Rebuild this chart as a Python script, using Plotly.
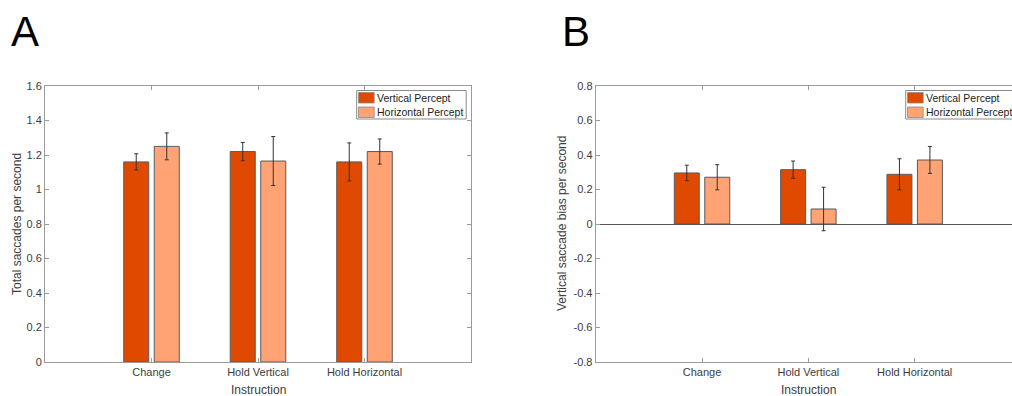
import plotly.graph_objects as go

# ---------------- data ----------------
categories = ["Change", "Hold Vertical", "Hold Horizontal"]
series_names = ["Vertical Percept", "Horizontal Percept"]

# Panel A: Total saccades per second
a_vertical = [1.16, 1.22, 1.16]
a_vertical_err = [0.047, 0.053, 0.110]
a_horizontal = [1.25, 1.165, 1.22]
a_horizontal_err = [0.078, 0.142, 0.073]

# Panel B: Vertical saccade bias per second
b_vertical = [0.296, 0.315, 0.288]
b_vertical_err = [0.045, 0.050, 0.090]
b_horizontal = [0.271, 0.087, 0.371]
b_horizontal_err = [0.073, 0.126, 0.078]

a_ticks = [0, 0.2, 0.4, 0.6, 0.8, 1, 1.2, 1.4, 1.6]
b_ticks = [-0.8, -0.6, -0.4, -0.2, 0, 0.2, 0.4, 0.6, 0.8]

# ---------------- styling ----------------
W, H = 1022, 396
FONT = "Liberation Sans"
TXT = "#3c3c3c"
AX = "#9a9a9a"
C_V = "#E04A00"
C_H = "#FFA374"
colors = [C_V, C_H]


def px(x):
    return x / W


def py(y):
    return 1 - y / H


xpos = [i + 1 for i in range(len(categories))]

fig = go.Figure()
panels = [
    ("x", "y", [a_vertical, a_horizontal], [a_vertical_err, a_horizontal_err]),
    ("x2", "y2", [b_vertical, b_horizontal], [b_vertical_err, b_horizontal_err]),
]
for xa, ya, vals, errs in panels:
    for k in range(2):
        fig.add_trace(go.Bar(
            x=xpos, y=vals[k], name=series_names[k], xaxis=xa, yaxis=ya,
            offsetgroup=str(k), showlegend=False,
            marker=dict(color=colors[k], line=dict(color="#5a5a5a", width=1)),
            error_y=dict(type="data", array=errs[k], color="#333333",
                         thickness=1, width=2),
        ))

ydom = [py(362), py(86)]
common_x = dict(range=[0, 4], tickvals=xpos, ticktext=categories,
                ticks="inside", ticklen=4, tickcolor=AX, showline=True,
                linecolor=AX, linewidth=1, mirror="ticks", showgrid=False,
                zeroline=False, automargin=False,
                tickfont=dict(family=FONT, size=11, color=TXT))
common_y = dict(ticks="inside", ticklen=4, tickcolor=AX, showline=True,
                linecolor=AX, linewidth=1, mirror="ticks", showgrid=False,
                automargin=False,
                tickfont=dict(family=FONT, size=11, color=TXT))

fig.update_layout(
    width=W, height=H, autosize=False,
    margin=dict(l=0, r=0, t=0, b=0, pad=0, autoexpand=False),
    paper_bgcolor="white", plot_bgcolor="white",
    barmode="group", bargap=0.427, bargroupgap=0.18,
    showlegend=False,
    xaxis=dict(domain=[px(45), px(471)], anchor="y", **common_x),
    yaxis=dict(domain=ydom, anchor="x", range=[0, 1.6], tickvals=a_ticks,
               ticktext=[f"{t:g}" for t in a_ticks], zeroline=False, **common_y),
    xaxis2=dict(domain=[px(595.7), px(1021)], anchor="y2", **common_x),
    yaxis2=dict(domain=ydom, anchor="x2", range=[-0.8, 0.8], tickvals=b_ticks,
                ticktext=[f"{t:g}" for t in b_ticks], zeroline=True,
                zerolinecolor="#555555", zerolinewidth=1, **common_y),
)


def label(text, x, y, size, color=TXT, angle=0, xanchor="center"):
    return dict(text=text, x=px(x), y=py(y), xref="paper", yref="paper",
                showarrow=False, textangle=angle, xanchor=xanchor,
                yanchor="middle", font=dict(family=FONT, size=size, color=color))


ann = [
    label("A", 24.5, 31, 42, "black"),
    label("B", 576, 31, 42, "black"),
    label("Total saccades per second", 17, 224, 12, angle=-90),
    label("Vertical saccade bias per second", 562, 224, 12, angle=-90),
    label("Instruction", 258, 390, 12),
    label("Instruction", 808.3, 390, 12),
]

shapes = []
# manual legends
for lx in (356.7, 905.7):
    shapes.append(dict(type="rect", xref="paper", yref="paper",
                       x0=px(lx), x1=px(lx + 109.5), y0=py(119), y1=py(90.5),
                       line=dict(color="#8a8a8a", width=1), fillcolor="white"))
    for k in range(2):
        y0 = 92.5 + k * 14.5
        shapes.append(dict(type="rect", xref="paper", yref="paper",
                           x0=px(lx + 1.8), x1=px(lx + 17.5),
                           y0=py(y0 + 10.5), y1=py(y0),
                           line=dict(color="#8a8a8a", width=0.8),
                           fillcolor=colors[k]))
        ann.append(label(series_names[k], lx + 18.5, y0 + 5.3, 10.5,
                         "#222222", xanchor="left"))

fig.update_layout(annotations=ann, shapes=shapes)

fig.write_html("out.html",
               config={"displayModeBar": False},
               post_script="document.body.style.margin='0';"
                           "document.body.style.overflow='hidden';"
                           "document.documentElement.style.overflow='hidden';")
